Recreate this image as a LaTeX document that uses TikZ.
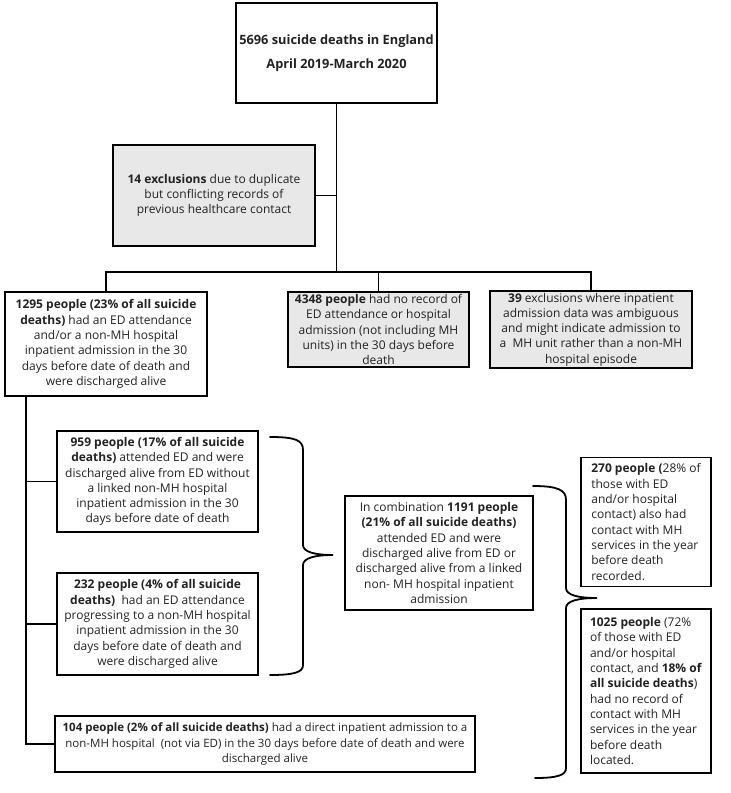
\documentclass[tikz,border=0pt]{standalone}
\usepackage{fontspec}
\setmainfont{Open Sans}
\definecolor{boxgray}{HTML}{E8E8E8}
\definecolor{txt}{HTML}{222222}
\begin{document}
\begin{tikzpicture}[x=1pt,y=-1pt,
  box/.style={draw, line width=1.8pt, inner sep=2pt, align=center, text=txt,
    font=\fontsize{12}{15.3}\selectfont},
  graybox/.style={box, fill=boxgray},
  lbox/.style={box, align=left},
  conn/.style={line width=1.4pt},
  brace/.style={line width=1.8pt, line cap=round}]
\useasboundingbox (0,0) rectangle (731,793);

\node[box, minimum width=201pt, minimum height=100pt,
  font=\fontsize{12.8}{24}\selectfont\bfseries] (top) at (336.5,53)
  {5696 suicide deaths in England\\ April 2019-March 2020};

\node[graybox, minimum width=202pt, minimum height=101pt] (ex14) at (214,195.5)
  {\textbf{14 exclusions} due to duplicate\\ but conflicting records of\\ previous healthcare contact};

\node[box, minimum width=202pt, minimum height=104pt] (p1295) at (106,344)
  {\textbf{1295 people (23\% of all suicide}\\ \textbf{deaths)} had an ED attendance\\ and/or a non-MH hospital\\ inpatient admission in the 30\\ days before date of death and\\ were discharged alive};

\node[graybox, minimum width=181pt, minimum height=75pt] (p4348) at (378.5,329.5)
  {\textbf{4348 people} had no record of\\ ED attendance or hospital\\ admission (not including MH\\ units) in the 30 days before\\ death};

\node[graybox, minimum width=202pt, minimum height=75pt] (p39) at (591,329.5)
  {\textbf{39} exclusions where inpatient\\ admission data was ambiguous\\ and might indicate admission to\\ a~ MH unit rather than a non-MH\\ hospital episode};

\node[box, minimum width=201pt, minimum height=101pt] (p959) at (157.5,481.5)
  {\textbf{959 people (17\% of all suicide}\\ \textbf{deaths)} attended ED and were\\ discharged alive from ED without\\ a linked non-MH hospital\\ inpatient admission in the 30\\ days before date of death};

\node[box, minimum width=201pt, minimum height=102pt] (p232) at (157.5,624)
  {\textbf{232 people (4\% of all suicide}\\ \textbf{deaths)}~ had an ED attendance\\ progressing to a non-MH hospital\\ inpatient admission in the 30\\ days before date of death and\\ were discharged alive};

\node[box, minimum width=420pt, minimum height=56pt,
  font=\fontsize{11.5}{15.3}\selectfont] (p104) at (265,744)
  {\textbf{104 people (2\% of all suicide deaths)} had a direct inpatient admission to a\\ non-MH hospital~ (not via ED) in the 30 days before date of death and were\\ discharged alive};

\node[box, minimum width=188pt, minimum height=114pt] (p1191) at (439,553)
  {In combination \textbf{1191 people}\\ \textbf{(21\% of all suicide deaths)}\\ attended ED and were\\ discharged alive from ED or\\ discharged alive from a linked\\ non- MH hospital inpatient\\ admission};

\node[lbox, minimum width=130pt, minimum height=129pt] (p270) at (646,522)
  {\textbf{270 people (}28\% of\\ those with ED\\ and/or hospital\\ contact) also had\\ contact with MH\\ services in the year\\ before death\\ recorded.};

\node[lbox, minimum width=130pt, minimum height=164pt] (p1025) at (646,691)
  {\textbf{1025 people} (72\%\\ of those with ED\\ and/or hospital\\ contact, and \textbf{18\% of}\\ \textbf{all suicide deaths})\\ had no record of\\ contact with MH\\ services in the year\\ before death\\ located.};

% connectors
\coordinate (bar) at (336.5,272);
\coordinate (spine) at (26,396);
\draw[conn] (top.south) -- (bar);
\draw[conn] (ex14.east) -- (ex14.east -| bar);
\draw[conn] (p1295.north) |- (bar);
\draw[conn] (p39.north) |- (bar);
\draw[conn] (p4348.north) -- (p4348.north |- bar);
\draw[conn] (spine) |- (p104.west);
\draw[conn] (p959.west) -- (p959.west -| spine);
\draw[conn] (p232.west) -- (p232.west -| spine);

% braces
\coordinate (b1a) at (270,437);
\coordinate (b1t) at (333,555);
\coordinate (b1b) at (270,675);
\draw[brace] (b1a) .. controls (295,437) and (303,440) .. (303,450) -- (303,545)
  .. controls (303,552) and (315,555) .. (b1t)
  .. controls (315,555) and (303,558) .. (303,565) -- (303,665)
  .. controls (303,672) and (295,675) .. (b1b);
\coordinate (b2a) at (533,486);
\coordinate (b2t) at (597,598);
\coordinate (b2b) at (535,778);
\draw[brace] (b2a) .. controls (558,486) and (566,490) .. (566,500) -- (566,588)
  .. controls (566,595) and (578,598) .. (b2t)
  .. controls (578,598) and (566,601) .. (566,608) -- (566,768)
  .. controls (566,775) and (558,778) .. (b2b);
\end{tikzpicture}
\end{document}
